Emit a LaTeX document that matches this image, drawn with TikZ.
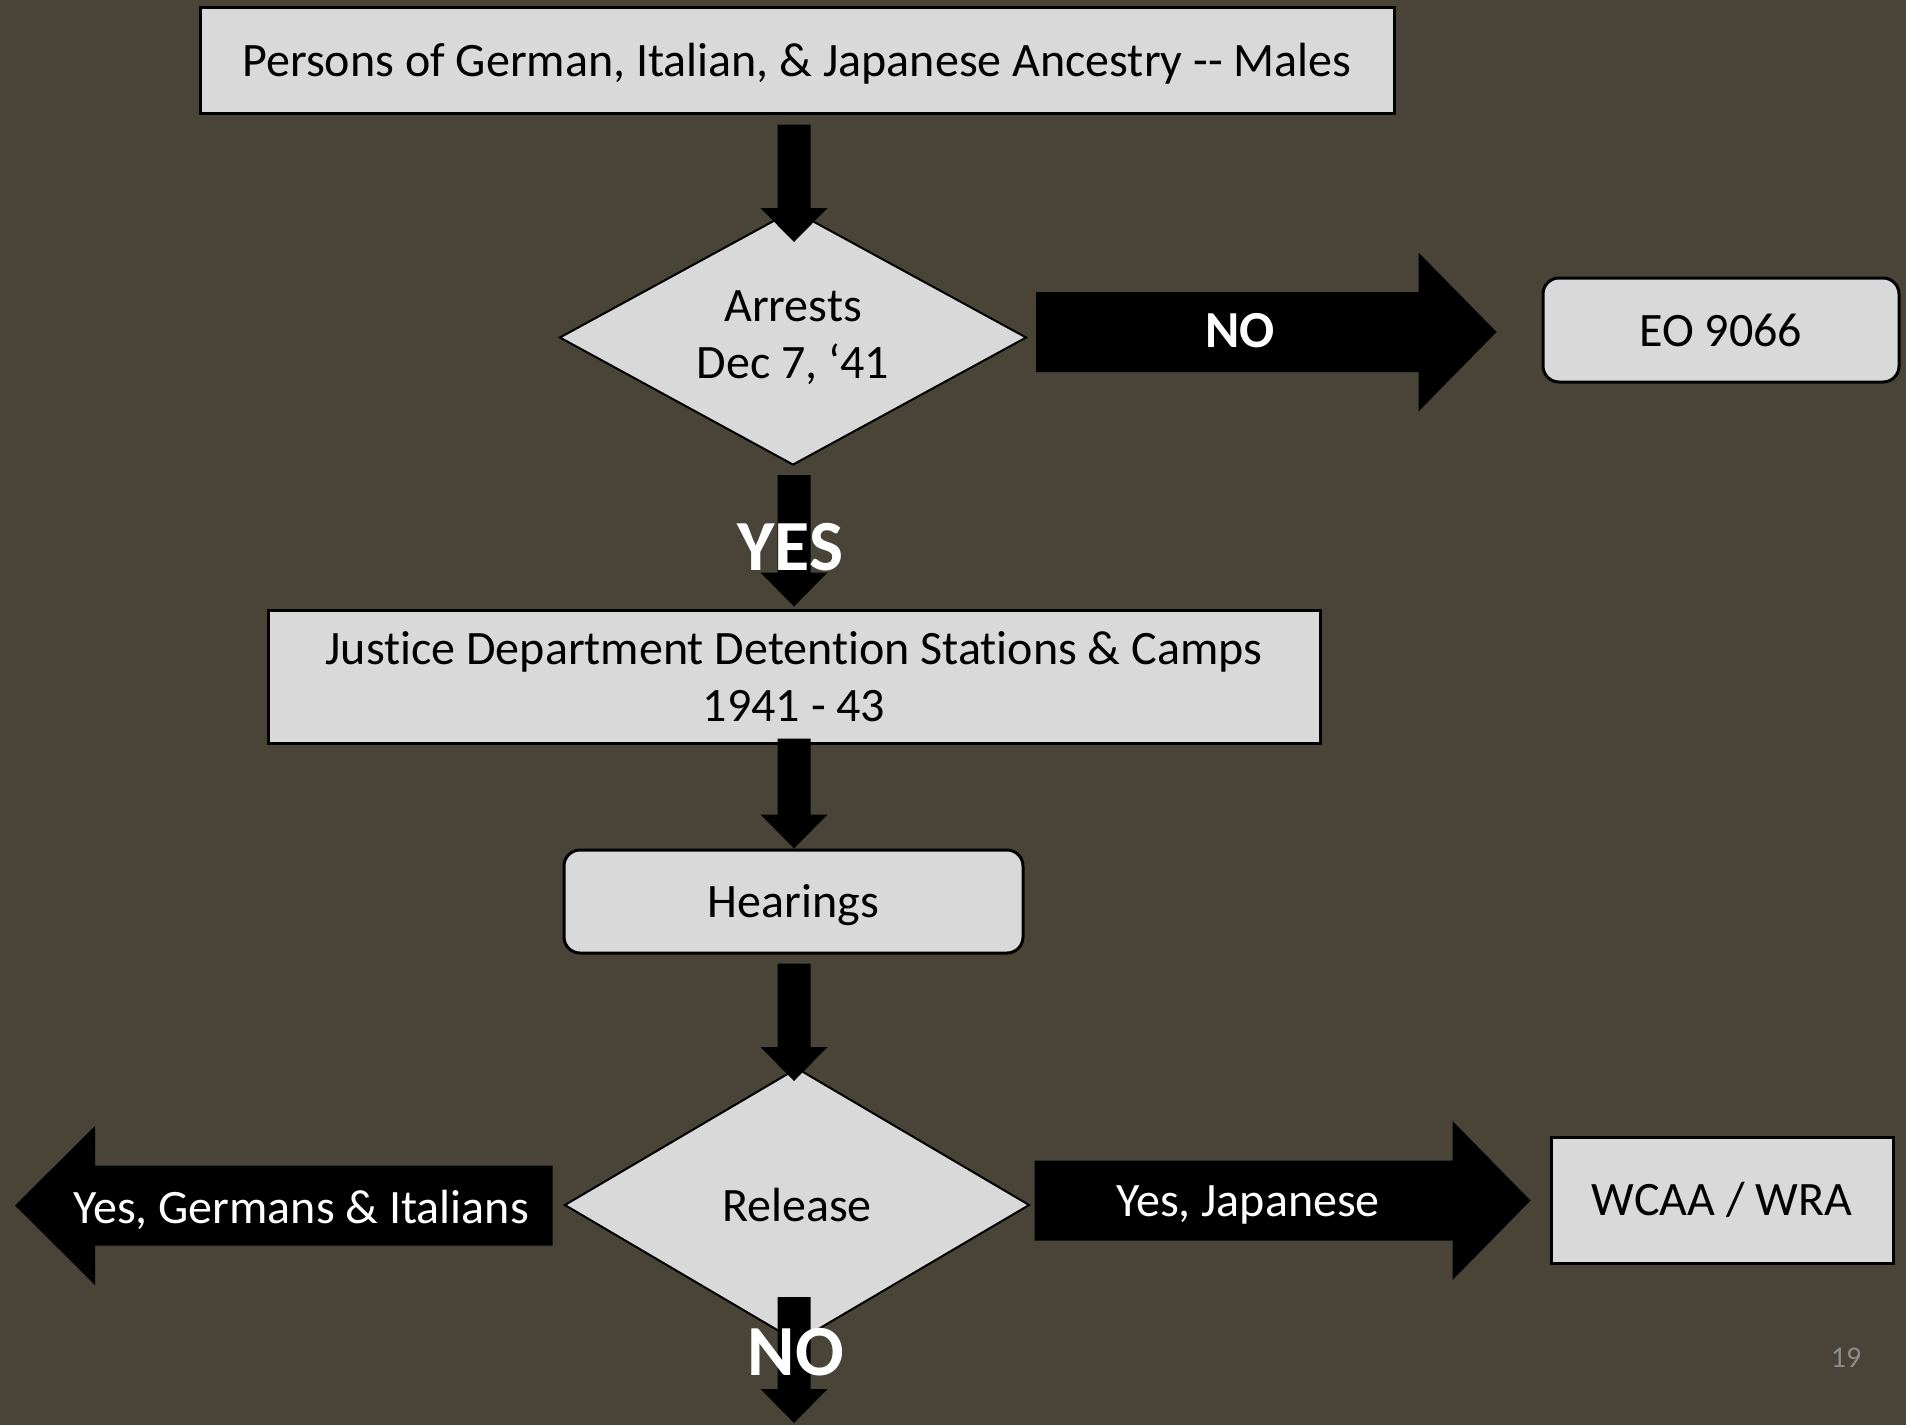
\documentclass[tikz,border=0pt]{standalone}
\usepackage{fontspec}
\setmainfont[Ligatures={NoCommon}]{Carlito}
\usetikzlibrary{shapes.geometric,calc}
\definecolor{bg}{RGB}{74,68,56}
\definecolor{boxfill}{RGB}{217,217,217}
\definecolor{pgnum}{RGB}{140,140,140}
\newcommand\vblk[2]{%
  \fill[black] let \p1=(#1), \p2=(#2) in
    ({\x1-16.5pt},\y1) -- ({\x1-16.5pt},{\y2+34pt}) -- ({\x1-33.5pt},{\y2+34pt})
    -- (\x1,\y2) -- ({\x1+33.5pt},{\y2+34pt}) -- ({\x1+16.5pt},{\y2+34pt})
    -- ({\x1+16.5pt},\y1) -- cycle;}
\newcommand\hblk[3]{%
  \fill[black] let \p1=(#1), \p2=(#2) in
    (\x1,{\y1+40pt}) -- ({\x2-(#3pt)},{\y1+40pt}) -- ({\x2-(#3pt)},{\y1+79.5pt})
    -- (\x2,\y1) -- ({\x2-(#3pt)},{\y1-79.5pt}) -- ({\x2-(#3pt)},{\y1-40pt})
    -- (\x1,{\y1-40pt}) -- cycle;}
\begin{document}
\begin{tikzpicture}[x=1pt,y=-1pt,
  txt/.style={font=\fontsize{48}{57}\selectfont},
  box/.style={txt,draw=black,line width=3pt,fill=boxfill,inner sep=0pt,align=center},
  rbox/.style={box,rounded corners=16pt},
  dec/.style={txt,diamond,draw=black,line width=2pt,fill=boxfill,inner sep=0pt,align=center},
  wlbl/.style={text=white,inner sep=0pt,font=\fontsize{48}{57}\selectfont},
  blbl/.style={text=white,inner sep=0pt,font=\fontsize{52}{60}\selectfont\bfseries},
  bigl/.style={text=white,inner sep=0pt,font=\fontsize{72}{80}\selectfont\bfseries},
]
\fill[bg] (0,0) rectangle (1906,1425);
\useasboundingbox (0,0) rectangle (1906,1425);

\node[box,minimum width=1194pt,minimum height=106pt,text height=43pt,text depth=11pt] (top) at (797,60)
  {Persons of German, Italian, \& Japanese Ancestry -{}- Males};
\node[dec,shape aspect=1.83,minimum width=467pt,minimum height=255pt] (d1) at (793,337.5)
  {Arrests\\Dec 7, ‘41};
\node[rbox,minimum width=356pt,minimum height=104pt] (eo) at (1721,330) {EO 9066};
\node[box,minimum width=1052pt,minimum height=133pt] (just) at (794,676.5)
  {Justice Department Detention Stations \& Camps\\1941 - 43};
\node[rbox,minimum width=459pt,minimum height=103pt,text height=42pt,text depth=11pt] (hear) at (793.5,901.5) {Hearings};
\node[dec,shape aspect=1.7,minimum width=465pt,minimum height=274pt] (d2) at (797,1205) {Release};
\node[box,minimum width=342pt,minimum height=126pt] (wcaa) at (1722,1200) {WCAA / WRA};
\coordinate (gi) at (15,1205.5);
\coordinate (out) at (794,1423);

\vblk{$(top.south)+(-3,10)$}{$(d1.north)+(1,33)$}
\vblk{$(d1.south)+(1,9)$}{$(just.north)+(0,-2)$}
\vblk{$(just.south)+(0,-6)$}{$(hear.north)+(0.5,0)$}
\vblk{$(hear.south)+(0.5,9)$}{$(d2.north)+(-3,14)$}
\vblk{$(d2.south)+(-3,-46)$}{out}
\hblk{$(d1.east)+(8.5,-5.5)$}{$(eo.west)+(-45,2)$}{78}
\hblk{$(d2.east)+(4,-4.5)$}{$(wcaa.west)+(-19,0.5)$}{78}
\hblk{$(d2.west)+(-11,0.5)$}{gi}{-80}

\node[blbl] (nolbl) at (1240,331) {NO};
\node[bigl] (yeslbl) at (790,547) {YES};
\node[wlbl] (jplbl) at (1248,1205) {Yes, Japanese};
\node[wlbl] (gilbl) at (301,1210) {Yes, Germans \& Italians};
\node[bigl] (no2lbl) at (796,1352) {NO};
\node[text=pgnum,inner sep=0pt,font=\fontsize{30}{36}\selectfont] (pg) at (1846,1358) {19};
\end{tikzpicture}
\end{document}
